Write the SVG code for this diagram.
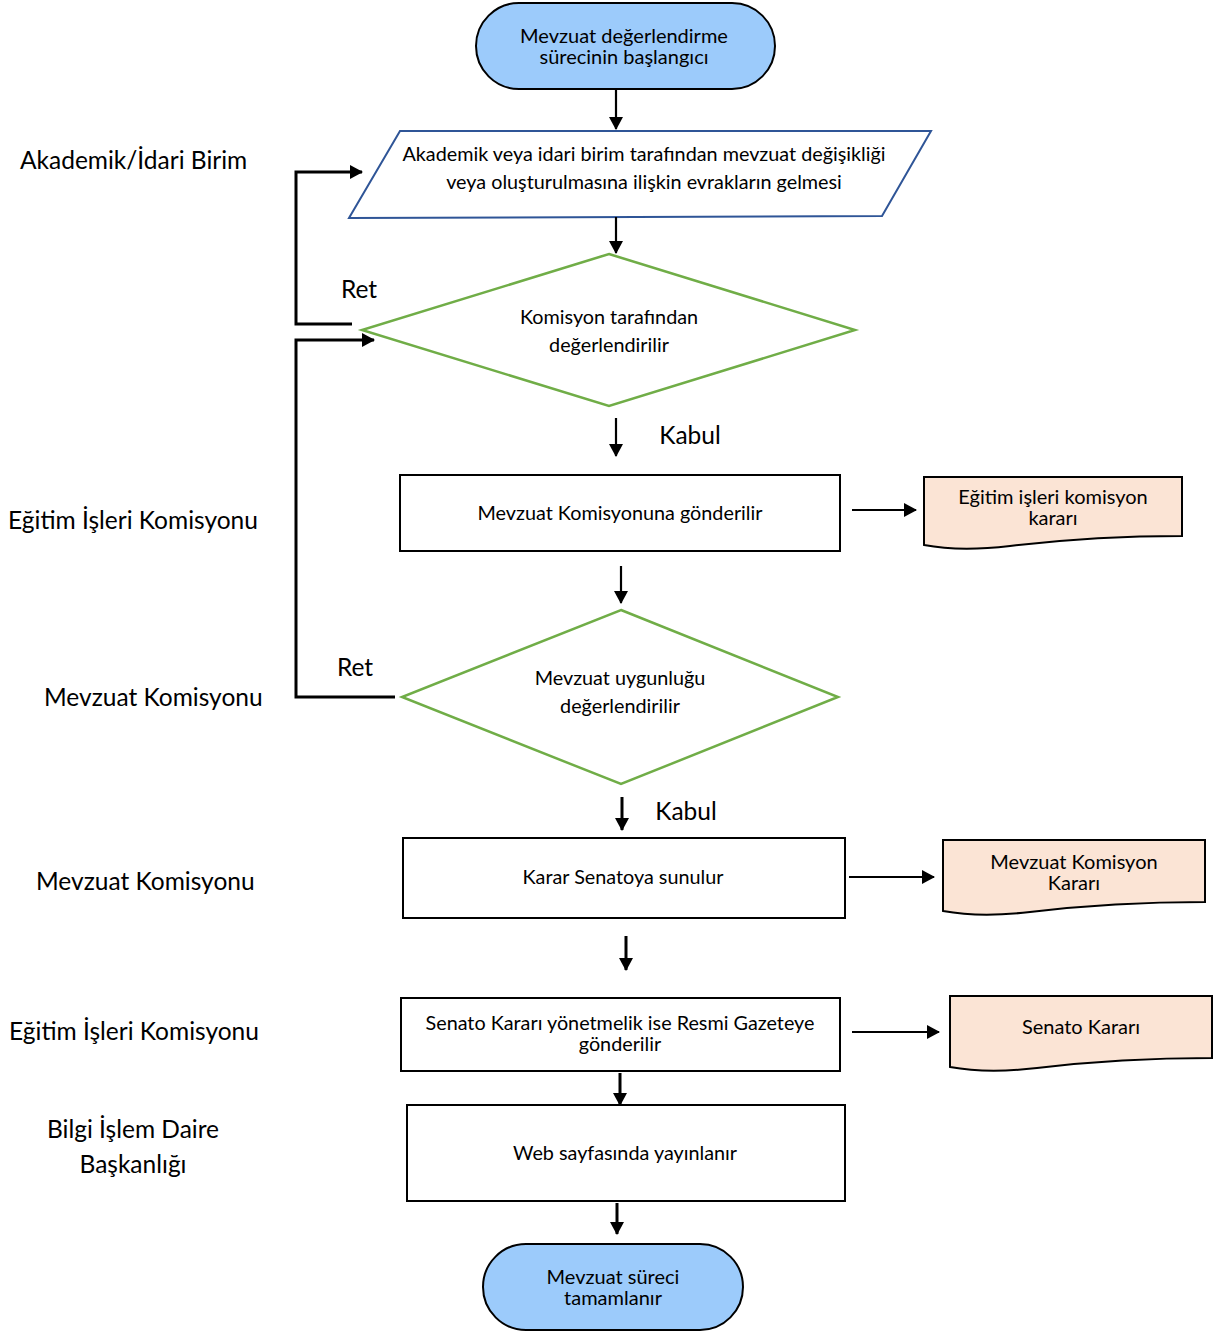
<svg xmlns="http://www.w3.org/2000/svg" width="1215" height="1331" viewBox="0 0 1215 1331">
<defs>
<marker id="ah" markerUnits="userSpaceOnUse" markerWidth="14" markerHeight="14" refX="12" refY="7" orient="auto"><path d="M0,0 L13,7 L0,14 Z" fill="#000"/></marker>
<style>
text{font-family:Lato,"Liberation Sans",sans-serif;fill:#000;text-anchor:middle}
.lab{font-size:24.5px;text-anchor:start}
.big{font-size:24.5px}
.t{font-size:20px}
.s{font-size:19.8px}
.term{fill:#9ccbfb;stroke:#000;stroke-width:2}
.box{fill:#fff;stroke:#000;stroke-width:2}
.dia{fill:#fff;stroke:#70ad47;stroke-width:2.5}
.doc{fill:#fbe4d5;stroke:#000;stroke-width:2}
.c{fill:none;stroke:#000;stroke-width:2.2;marker-end:url(#ah)}
.c3{fill:none;stroke:#000;stroke-width:3;marker-end:url(#ah)}
</style>
</defs>
<rect width="1215" height="1331" fill="#fff"/>
<g id="lanes">
<text class="lab" x="20" y="169">Akademik/İdari Birim</text>
<text class="lab" x="8" y="529">Eğitim İşleri Komisyonu</text>
<text class="lab" x="44" y="706">Mevzuat Komisyonu</text>
<text class="lab" x="36" y="890">Mevzuat Komisyonu</text>
<text class="lab" x="9" y="1040">Eğitim İşleri Komisyonu</text>
<text class="lab" x="133" y="1138" style="text-anchor:middle">Bilgi İşlem Daire</text>
<text class="lab" x="133" y="1173" style="text-anchor:middle">Başkanlığı</text>
</g>
<g id="start">
<rect class="term" x="476" y="3" width="299" height="86" rx="43"/>
<text class="t" x="624" y="43">Mevzuat değerlendirme</text>
<text class="t" x="624" y="64">sürecinin başlangıcı</text>
</g>
<g id="input">
<polygon points="400,131 931,131 882,216 349,218" fill="#fff" stroke="#2f5597" stroke-width="2"/>
<text class="s" x="644" y="161">Akademik veya idari birim tarafından mevzuat değişikliği</text>
<text class="s" x="644" y="189">veya oluşturulmasına ilişkin evrakların gelmesi</text>
</g>
<g id="decision1">
<polygon class="dia" points="609,254 855,330 609,406 362,330"/>
<text class="s" x="609" y="324">Komisyon tarafından</text>
<text class="s" x="609" y="352">değerlendirilir</text>
</g>
<g id="box1">
<rect class="box" x="400" y="475" width="440" height="76"/>
<text class="s" x="620" y="520">Mevzuat Komisyonuna gönderilir</text>
</g>
<g id="doc1">
<path class="doc" d="M924,477 H1182 V536 C1110,536 1060,540 1010,546 C975,550 945,549 924,545 Z"/>
<text class="t" x="1053" y="504">Eğitim işleri komisyon</text>
<text class="t" x="1053" y="525">kararı</text>
</g>
<g id="decision2">
<polygon class="dia" points="621,610 838,697 621,784 402,697"/>
<text class="s" x="620" y="685">Mevzuat uygunluğu</text>
<text class="s" x="620" y="713">değerlendirilir</text>
</g>
<g id="box2">
<rect class="box" x="403" y="838" width="442" height="80"/>
<text class="s" x="623" y="884">Karar Senatoya sunulur</text>
</g>
<g id="doc2">
<path class="doc" d="M943,840 H1205 V902 C1130,902 1080,906 1030,912 C995,916 965,915 943,911 Z"/>
<text class="t" x="1074" y="869">Mevzuat Komisyon</text>
<text class="t" x="1074" y="890">Kararı</text>
</g>
<g id="box3">
<rect class="box" x="401" y="998" width="439" height="73"/>
<text class="s" x="620" y="1030">Senato Kararı yönetmelik ise Resmi Gazeteye</text>
<text class="s" x="620" y="1051">gönderilir</text>
</g>
<g id="doc3">
<path class="doc" d="M950,996 H1212 V1058 C1137,1058 1087,1062 1037,1068 C1002,1072 972,1071 950,1067 Z"/>
<text class="t" x="1081" y="1034">Senato Kararı</text>
</g>
<g id="box4">
<rect class="box" x="407" y="1105" width="438" height="96"/>
<text class="s" x="625" y="1160">Web sayfasında yayınlanır</text>
</g>
<g id="end">
<rect class="term" x="483" y="1244" width="260" height="86" rx="43"/>
<text class="t" x="613" y="1284">Mevzuat süreci</text>
<text class="t" x="613" y="1305">tamamlanır</text>
</g>
<g id="connectors">
<path class="c" d="M616,90 V129"/>
<path class="c" d="M616,217 V253"/>
<path class="c3" d="M352,324 H296 V172 H362"/>
<path class="c3" d="M395,697 H296 V340 H374"/>
<path class="c" d="M616,418 V456"/>
<path class="c" d="M852,510 H916"/>
<path class="c" d="M621,566 V603"/>
<path class="c3" d="M622,797 V830"/>
<path class="c" d="M849,877 H934"/>
<path class="c3" d="M626,936 V970"/>
<path class="c" d="M852,1032 H939"/>
<path class="c3" d="M620,1073 V1105"/>
<path class="c3" d="M617,1203 V1234"/>
<text class="big" x="359" y="298">Ret</text>
<text class="big" x="355" y="676">Ret</text>
<text class="big" x="690" y="444">Kabul</text>
<text class="big" x="686" y="820">Kabul</text>
</g>
</svg>
